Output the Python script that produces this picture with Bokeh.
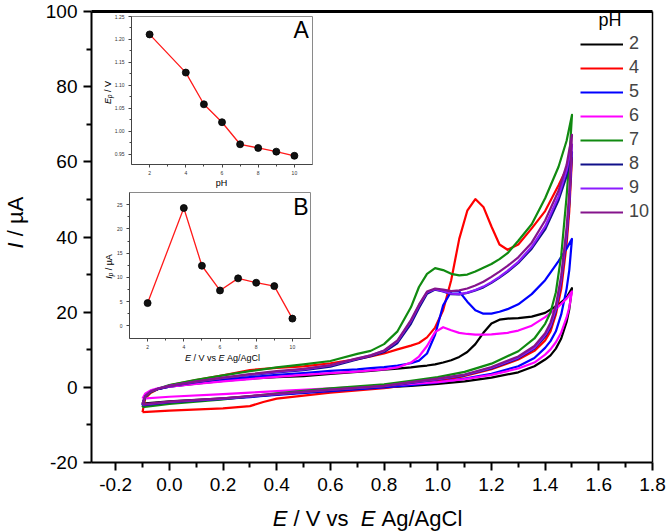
from math import pi

from bokeh.plotting import figure
from bokeh.models import (Range1d, LinearAxis, FixedTicker, NumeralTickFormatter,
                          Label, Legend, LegendItem)
from bokeh.embed import file_html
from bokeh.resources import INLINE

# ---------------- cyclic voltammograms (E in V, I in uA) ----------------
# potentials of the anodic sweep and of the return sweep
E_FWD = [-0.1, -0.09, -0.07, -0.04, 0.0, 0.1, 0.2, 0.3, 0.4, 0.5, 0.6, 0.7, 0.75,
         0.8, 0.85, 0.9, 0.93, 0.96, 0.99, 1.02, 1.05, 1.08, 1.11, 1.14, 1.17, 1.2,
         1.23, 1.26, 1.3, 1.35, 1.4, 1.45, 1.48, 1.5]
E_REV = [1.5, 1.49, 1.48, 1.46, 1.44, 1.42, 1.4, 1.36, 1.3, 1.2, 1.1, 1.0, 0.9,
         0.8, 0.6, 0.4, 0.35, 0.3, 0.2, 0.0, -0.1]

PH_LEVELS = ["2", "4", "5", "6", "7", "8", "9", "10"]

I_FWD = {
    "2": [-4.3, -2.2, -1.1, -0.4, 0.2, 1.0, 1.7, 2.3, 2.7, 3.0, 3.6, 4.1, 4.4, 4.7, 5.0,
          5.3, 5.6, 5.8, 6.1, 6.6, 7.2, 8.1, 9.4, 11.5, 14.5, 17.0, 18.0, 18.3, 18.4,
          18.8, 19.8, 22.0, 23.9, 26.4],
    "4": [-6.6, -3.0, -1.5, -0.4, 0.5, 1.9, 3.2, 4.6, 5.2, 5.6, 6.4, 7.5, 8.2, 9.0, 10.1,
          11.1, 11.8, 13.3, 15.9, 20.5, 28.5, 39.5, 47.0, 50.1, 48.0, 42.8, 38.0, 36.6,
          38.0, 42.3, 46.9, 53.8, 58.2, 61.1],
    "5": [-4.7, -2.4, -1.2, -0.4, 0.2, 1.2, 2.0, 2.7, 3.3, 3.8, 4.4, 4.8, 5.1, 5.4, 5.8,
          6.4, 7.1, 9.0, 14.0, 21.8, 25.5, 25.5, 22.8, 20.5, 19.6, 19.6, 20.1, 20.8,
          22.1, 24.8, 28.5, 33.6, 36.9, 39.5],
    "6": [-3.0, -1.7, -0.8, -0.2, 0.2, 0.9, 1.6, 2.2, 2.8, 3.3, 3.8, 4.2, 4.5, 4.8, 5.3,
          6.6, 8.2, 11.0, 14.7, 16.0, 15.2, 14.5, 14.2, 14.0, 14.0, 14.1, 14.3, 14.5,
          15.1, 16.4, 18.7, 21.5, 23.6, 25.5],
    "7": [-5.3, -2.6, -1.3, -0.3, 0.6, 2.0, 3.2, 4.3, 5.3, 6.1, 7.0, 8.9, 9.7, 11.5,
          14.9, 21.3, 26.7, 30.2, 31.7, 31.2, 30.2, 29.8, 30.0, 30.8, 31.8, 32.8, 34.1,
          35.7, 39.0, 43.4, 50.3, 58.7, 65.6, 72.5],
    "8": [-4.8, -2.4, -1.2, -0.4, 0.3, 1.4, 2.4, 3.3, 4.0, 4.6, 5.5, 7.4, 8.3, 9.4, 11.8,
          16.9, 21.1, 24.9, 26.0, 25.5, 24.8, 24.7, 25.1, 25.8, 26.6, 27.8, 29.2, 30.7,
          33.1, 36.9, 42.0, 49.8, 56.2, 62.6],
    "9": [-4.6, -2.3, -1.1, -0.3, 0.4, 1.5, 2.5, 3.4, 4.1, 4.8, 5.8, 7.6, 8.5, 9.7, 12.3,
          17.6, 21.8, 25.3, 26.1, 25.6, 24.9, 24.8, 25.2, 25.9, 26.8, 28.0, 29.4, 31.0,
          33.4, 37.4, 42.8, 50.8, 57.7, 64.6],
    "10": [-4.5, -2.3, -1.1, -0.3, 0.4, 1.6, 2.6, 3.5, 4.3, 4.9, 5.9, 7.7, 8.5, 9.8, 12.5,
           17.9, 22.0, 25.5, 26.3, 26.0, 25.6, 25.8, 26.3, 27.1, 28.1, 29.4, 30.8, 32.3,
           34.6, 38.5, 44.4, 52.3, 59.2, 67.2],
}

I_REV = {
    "2": [26.4, 20.8, 17.4, 13.0, 10.3, 8.5, 7.4, 5.6, 4.0, 2.6, 1.6, 0.9, 0.4, 0.0,
          -0.9, -1.8, -2.1, -2.4, -2.9, -3.7, -4.3],
    "4": [61.1, 46.9, 38.0, 26.2, 19.4, 14.9, 12.5, 9.7, 7.4, 4.8, 3.0, 1.7, 0.7, -0.2,
          -1.4, -3.0, -3.9, -5.0, -5.6, -6.2, -6.6],
    "5": [39.5, 31.2, 26.2, 19.4, 14.9, 12.3, 10.5, 7.8, 5.6, 3.6, 2.3, 1.3, 0.6, 0.0,
          -1.0, -2.0, -2.3, -2.6, -3.1, -4.0, -4.7],
    "6": [25.5, 21.3, 18.6, 14.6, 12.0, 10.1, 8.7, 6.6, 5.0, 3.3, 2.2, 1.4, 0.9, 0.4,
          -0.3, -1.0, -1.2, -1.4, -1.8, -2.5, -3.0],
    "7": [72.5, 60.6, 50.8, 35.1, 25.3, 19.9, 16.9, 13.0, 9.6, 6.3, 4.1, 2.7, 1.7, 0.8,
          -0.3, -1.6, -2.0, -2.4, -3.2, -4.4, -5.3],
    "8": [62.6, 48.8, 40.0, 28.2, 20.3, 15.9, 13.5, 10.3, 7.7, 5.0, 3.2, 2.1, 1.2, 0.2,
          -0.8, -1.9, -2.2, -2.5, -3.1, -4.0, -4.8],
    "9": [64.6, 49.8, 41.0, 28.7, 20.8, 16.4, 13.9, 10.5, 7.9, 5.2, 3.3, 2.2, 1.3, 0.3,
          -0.7, -1.8, -2.1, -2.4, -3.0, -3.9, -4.6],
    "10": [67.2, 51.8, 42.5, 29.7, 21.8, 17.2, 14.4, 11.0, 8.2, 5.4, 3.4, 2.3, 1.4, 0.4,
           -0.6, -1.7, -2.0, -2.3, -2.9, -3.8, -4.5],
}

COLORS = {"2": "#000000", "4": "#ff0000", "5": "#0000ff", "6": "#ff00ff",
          "7": "#108a10", "8": "#10108a", "9": "#8c1cff", "10": "#85148c"}

X_TICKS = [-0.2, 0.0, 0.2, 0.4, 0.6, 0.8, 1.0, 1.2, 1.4, 1.6, 1.8]
X_MINOR = [-0.1, 0.1, 0.3, 0.5, 0.7, 0.9, 1.1, 1.3, 1.5, 1.7]
Y_TICKS = [-20, 0, 20, 40, 60, 80, 100]
Y_MINOR = [-10, 10, 30, 50, 70, 90]

# ---------------- inset data: peak potential and peak current vs pH ----------------
PH = [2, 4, 5, 6, 7, 8, 9, 10]
EP = [1.211, 1.128, 1.059, 1.020, 0.972, 0.964, 0.956, 0.947]
IP = [4.7, 24.3, 12.4, 7.3, 9.8, 8.9, 8.2, 1.5]

EP_TICKS = [0.95, 1.00, 1.05, 1.10, 1.15, 1.20, 1.25]
EP_MINOR = [0.975, 1.025, 1.075, 1.125, 1.175, 1.225]
IP_TICKS = [0, 5, 10, 15, 20, 25]
IP_MINOR = [2.5, 7.5, 12.5, 17.5, 22.5]
PH_TICKS = [2, 4, 6, 8, 10]
PH_MINOR = [3, 5, 7, 9]

FONT = "Liberation Sans"

# ---------------- page layout (pixels from the top-left corner) ----------------
W, H = 666, 532
BOX_L, BOX_R, BOX_T, BOX_B = 91, 652, 11, 462    # main axes box
X_LIM = (-0.29, 1.8)
Y_LIM = (-20, 100)

INSET_A_BOX = (131, 312, 16, 164)                # left, right, top, bottom
INSET_A_X = (1, 11)
INSET_A_Y = (0.928, 1.25)
INSET_B_BOX = (129, 310, 192, 338)
INSET_B_X = (1, 11)
INSET_B_Y = (-2.6, 27.5)


def canvas_ranges(box, xlim, ylim):
    """Ranges covering the whole canvas so that xlim/ylim land on the given box."""
    l, r, t, b = box
    sx = (r - l) / (xlim[1] - xlim[0])
    sy = (b - t) / (ylim[1] - ylim[0])
    return (Range1d(xlim[0] - l / sx, xlim[1] + (W - r) / sx),
            Range1d(ylim[0] - (H - b) / sy, ylim[1] + t / sy))


main_xr, main_yr = canvas_ranges((BOX_L, BOX_R, BOX_T, BOX_B), X_LIM, Y_LIM)
SX = (BOX_R - BOX_L) / (X_LIM[1] - X_LIM[0])
SY = (BOX_B - BOX_T) / (Y_LIM[1] - Y_LIM[0])


def px_to_x(px):
    return main_xr.start + px / SX


def py_to_y(py):
    return main_yr.end - py / SY


p = figure(width=W, height=H, x_range=main_xr, y_range=main_yr, title=None,
           output_backend="svg", toolbar_location=None,
           x_axis_location=None, y_axis_location=None, min_border=0)
p.xgrid.visible = False
p.ygrid.visible = False
p.outline_line_color = None
p.background_fill_color = "white"
p.border_fill_color = "white"


def style_main(ax, size, standoff):
    ax.axis_line_width = 2
    ax.axis_line_color = "black"
    ax.major_tick_line_width = 2
    ax.minor_tick_line_width = 2
    ax.major_tick_line_color = "black"
    ax.minor_tick_line_color = "black"
    ax.major_tick_out = 8
    ax.major_tick_in = 0
    ax.minor_tick_out = 5
    ax.minor_tick_in = 0
    ax.major_label_text_font = FONT
    ax.major_label_text_font_size = size
    ax.major_label_text_color = "black"
    ax.major_label_standoff = standoff


main_x = LinearAxis(fixed_location=Y_LIM[0], bounds=X_LIM,
                    ticker=FixedTicker(ticks=X_TICKS, minor_ticks=X_MINOR),
                    formatter=NumeralTickFormatter(format="0.0"))
style_main(main_x, "19px", 7)
main_y = LinearAxis(fixed_location=X_LIM[0], bounds=Y_LIM,
                    ticker=FixedTicker(ticks=Y_TICKS, minor_ticks=Y_MINOR),
                    formatter=NumeralTickFormatter(format="0"))
style_main(main_y, "19px", 6)
p.add_layout(main_x, "below")
p.add_layout(main_y, "left")

# plain top and right edges of the box
top_edge = LinearAxis(fixed_location=Y_LIM[1], bounds=X_LIM, ticker=FixedTicker(ticks=[]),
                      axis_line_width=3, axis_line_color="black")
right_edge = LinearAxis(fixed_location=X_LIM[1], bounds=Y_LIM, ticker=FixedTicker(ticks=[]),
                        axis_line_width=1.5, axis_line_color="black")
p.add_layout(top_edge, "above")
p.add_layout(right_edge, "right")

# ---------------- voltammograms ----------------
curve = {}
for ph in PH_LEVELS:
    curve[ph] = p.line(E_FWD + E_REV, I_FWD[ph] + I_REV[ph], line_color=COLORS[ph],
                       line_width=2.2, line_join="round")

legend = Legend(items=[LegendItem(label=ph, renderers=[curve[ph]]) for ph in PH_LEVELS],
                location=(580, 310), glyph_width=43, glyph_height=20, label_height=20,
                label_standoff=6, spacing=3, padding=0, margin=0,
                label_text_font=FONT, label_text_font_size="18px",
                border_line_alpha=0, background_fill_alpha=0)
p.add_layout(legend)

# ---------------- insets ----------------
xa_r, ya_r = canvas_ranges(INSET_A_BOX, INSET_A_X, INSET_A_Y)
xb_r, yb_r = canvas_ranges(INSET_B_BOX, INSET_B_X, INSET_B_Y)
p.extra_x_ranges = {"xa": xa_r, "xb": xb_r}
p.extra_y_ranges = {"ya": ya_r, "yb": yb_r}


def inset_axis(xr, yr, loc, bounds, ticks, minor, fmt, standoff):
    ax = LinearAxis(x_range_name=xr, y_range_name=yr, fixed_location=loc, bounds=bounds,
                    ticker=FixedTicker(ticks=ticks, minor_ticks=minor),
                    formatter=NumeralTickFormatter(format=fmt))
    ax.axis_line_color = "#444444"
    ax.axis_line_width = 1
    ax.major_tick_line_color = "#444444"
    ax.minor_tick_line_color = "#444444"
    ax.major_tick_out = 3
    ax.major_tick_in = 0
    ax.minor_tick_out = 2
    ax.minor_tick_in = 0
    ax.major_label_text_font = FONT
    ax.major_label_text_font_size = "5px"
    ax.major_label_text_color = "#333333"
    ax.major_label_standoff = standoff
    return ax


for xr, yr, xlim, ylim, vals, yt, ym, yfmt in (
        ("xa", "ya", INSET_A_X, INSET_A_Y, EP, EP_TICKS, EP_MINOR, "0.00"),
        ("xb", "yb", INSET_B_X, INSET_B_Y, IP, IP_TICKS, IP_MINOR, "0")):
    p.quad(left=[xlim[0]], right=[xlim[1]], bottom=[ylim[0]], top=[ylim[1]],
           x_range_name=xr, y_range_name=yr, fill_color="white",
           line_color="#8a8a8a", line_width=1)
    p.line(PH, vals, x_range_name=xr, y_range_name=yr, line_color="#ff1a1a", line_width=1.3)
    p.scatter(PH, vals, x_range_name=xr, y_range_name=yr, size=7,
              fill_color="#111111", line_color="black", line_width=0.8)
    p.add_layout(inset_axis(xr, yr, xlim[0], ylim, yt, ym, yfmt, 4), "left")
    p.add_layout(inset_axis(xr, yr, ylim[0], xlim, PH_TICKS, PH_MINOR, "0", 3), "below")

# ---------------- texts ----------------
# advance widths (per 1000 em) of the Arial-metric sans used for the titles
ADV = {" ": 278, "/": 278, "E": 667, "V": 667, "v": 500, "s": 500, "A": 667, "B": 667,
       "g": 556, "C": 722, "l": 222, "I": 278, "\u00b5": 576, "p": 556, "H": 722}


def run_width(s, size):
    return sum(ADV.get(c, 556) for c in s) * size / 1000.0


def write_runs(runs, px, py, vertical=False):
    """Place consecutive text pieces of different styles one after another,
    vertically centred on py (or on px when the line runs upwards).
    runs: (text, font size, style, downward shift in px)."""
    pos = 0.0
    for text, size, style, shift in runs:
        lead = len(text) - len(text.lstrip(" "))
        core = text.strip(" ")
        pos += run_width(" " * lead, size)
        if vertical:
            sx, sy, ang = px + shift, py - pos, pi / 2
        else:
            sx, sy, ang = px + pos, py + shift, 0
        p.add_layout(Label(x=px_to_x(sx), y=py_to_y(sy), text=core, angle=ang,
                           text_font=FONT, text_font_size=f"{size}px",
                           text_font_style=style, text_color="black",
                           text_align="left", text_baseline="middle"))
        pos += run_width(core, size) + run_width(" " * (len(text) - lead - len(core)), size)


def centered(runs, cx, cy, vertical=False):
    total = sum(run_width(t, s) for t, s, _, _ in runs)
    if vertical:
        write_runs(runs, cx, cy + total / 2, vertical=True)
    else:
        write_runs(runs, cx - total / 2, cy)


# main axis titles
centered([("I", 22, "italic", 0), (" / \u00b5A", 22, "normal", 0)], 15, 222, vertical=True)
centered([("E", 22, "italic", 0), (" / V  vs ", 22, "normal", 0), ("E", 22, "italic", 0),
          (" Ag/AgCl", 22, "normal", 0)], 367, 518)

# legend heading
write_runs([("pH", 18, "normal", 0)], 598, 19)

# inset A titles
centered([("E", 9, "italic", 0), ("p", 6.3, "italic", 2), (" / V", 9, "normal", 0)],
         107, 92, vertical=True)
centered([("pH", 9, "normal", 0)], 221, 182.5)
write_runs([("A", 23, "normal", 0)], 293, 29)

# inset B titles
centered([("I", 9, "italic", 0), ("p", 6.3, "italic", 2), (" / \u00b5A", 9, "normal", 0)],
         108, 266, vertical=True)
centered([("E", 9, "italic", 0), (" / V vs ", 9, "normal", 0), ("E", 9, "italic", 0),
          (" Ag/AgCl", 9, "normal", 0)], 222, 357)
write_runs([("B", 23, "normal", 0)], 292.7, 206.7)

open("out.html", "w").write(file_html(p, INLINE))
